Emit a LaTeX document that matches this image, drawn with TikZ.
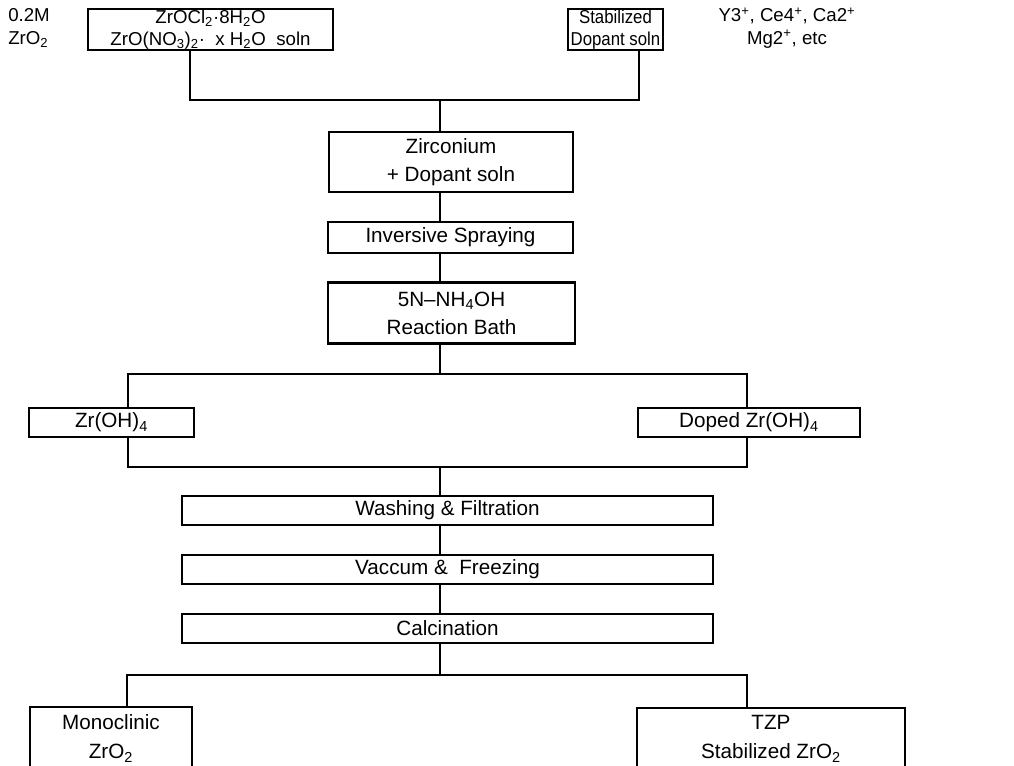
\documentclass[tikz,border=0pt]{standalone}
\usepackage{fontspec}
\setmainfont{Liberation Sans}
\newfontfamily\narrowfont[FakeStretch=0.9]{Liberation Sans}
\newcommand{\sbs}[1]{\textsubscript{#1}}
\newcommand{\sps}[1]{\textsuperscript{#1}}
\begin{document}
\begin{tikzpicture}[x=0.75pt,y=-0.75pt,
  box/.style={draw,line width=1.6pt,inner sep=0pt,align=center,font=\fontsize{15.5}{15}\selectfont},
  tall/.style={box,font=\fontsize{15.5}{21}\selectfont},
  top/.style={box,font=\fontsize{14}{16.5}\selectfont},
  conn/.style={line width=1.1pt},
  lbl/.style={inner sep=0pt,font=\fontsize{14}{17}\selectfont}]
\useasboundingbox (0,0) rectangle (1014,765);
% top row
\node[lbl,anchor=west,align=left] (conc) at (8,28) {0.2M\\ZrO\sbs{2}};
\node[top,minimum width=183.75pt,minimum height=30.75pt] (src) at (210.5,29.5)
  {ZrOCl\sbs{2}·8H\sbs{2}O\\ZrO(NO\sbs{3})\sbs{2}·\ \ x H\sbs{2}O\ \ soln};
\node[top,font=\narrowfont\fontsize{14}{16.5}\selectfont,minimum width=71.25pt,minimum height=30.75pt] (dop) at (615.5,29.5)
  {Stabilized\\Dopant soln};
\node[lbl,align=center] (ions) at (787,28) {Y3\sps{+}, Ce4\sps{+}, Ca2\sps{+}\\Mg2\sps{+}, etc};
% middle column
\node[tall,minimum width=183pt,minimum height=45pt] (zirc) at (451,162) {Zirconium\\+ Dopant soln};
\node[box,minimum width=183.75pt,minimum height=23.25pt] (spray) at (450.5,237.5) {Inversive Spraying};
\node[tall,minimum width=185.25pt,minimum height=45.75pt] (bath) at (451.5,313) {5N--NH\sbs{4}OH\\Reaction Bath};
% hydroxides
\node[box,minimum width=123.75pt,minimum height=21.75pt] (zroh) at (111.5,422.5) {Zr(OH)\sbs{4}};
\node[box,minimum width=166.5pt,minimum height=21.75pt] (doped) at (749,422.5) {Doped Zr(OH)\sbs{4}};
% processing
\node[box,minimum width=398.25pt,minimum height=21.75pt] (wash) at (447.5,510.5) {Washing \& Filtration};
\node[box,minimum width=398.25pt,minimum height=21.75pt] (vac) at (447.5,569.5) {Vaccum \&\ \ Freezing};
\node[box,minimum width=398.25pt,minimum height=21.75pt] (calc) at (447.5,628.5) {Calcination};
% products (cut off at the bottom)
\node[box,anchor=north,minimum width=121.5pt,minimum height=63pt] (monobox) at (111,706) {};
\node[lbl,align=center,font=\fontsize{15.5}{22}\selectfont,anchor=north] (mono) at ([yshift=-6pt]monobox.north) {Monoclinic\\ZrO\sbs{2}};
\node[box,anchor=north,minimum width=201pt,minimum height=63pt] (tzpbox) at (771,707) {};
\node[lbl,align=center,font=\fontsize{15.5}{22}\selectfont,anchor=north] (tzp) at ([yshift=-6pt]tzpbox.north) {TZP\\Stabilized ZrO\sbs{2}};
% connectors
\coordinate (t0) at (440,100); \coordinate (t1) at (190,100); \coordinate (t2) at (639,100);
\draw[conn] (src.south -| t1) -- (t1) -- (t2) -- (dop.south -| t2);
\draw[conn] (t0) -- (zirc.north -| t0);
\draw[conn] (zirc.south -| t0) -- (spray.north -| t0);
\draw[conn] (spray.south -| t0) -- (bath.north -| t0);
\coordinate (b0) at (440,374); \coordinate (b1) at (128,374); \coordinate (b2) at (747,374);
\draw[conn] (bath.south -| b0) -- (b0);
\draw[conn] (zroh.north -| b1) -- (b1) -- (b2) -- (doped.north -| b2);
\coordinate (m0) at (440,467); \coordinate (m1) at (128,467); \coordinate (m2) at (747,467);
\draw[conn] (zroh.south -| m1) -- (m1) -- (m2) -- (doped.south -| m2);
\draw[conn] (m0) -- (wash.north -| m0);
\draw[conn] (wash.south -| m0) -- (vac.north -| m0);
\draw[conn] (vac.south -| m0) -- (calc.north -| m0);
\coordinate (k0) at (440,675); \coordinate (k1) at (127,675); \coordinate (k2) at (747,675);
\draw[conn] (calc.south -| k0) -- (k0);
\draw[conn] (monobox.north -| k1) -- (k1) -- (k2) -- (tzpbox.north -| k2);
\end{tikzpicture}
\end{document}
